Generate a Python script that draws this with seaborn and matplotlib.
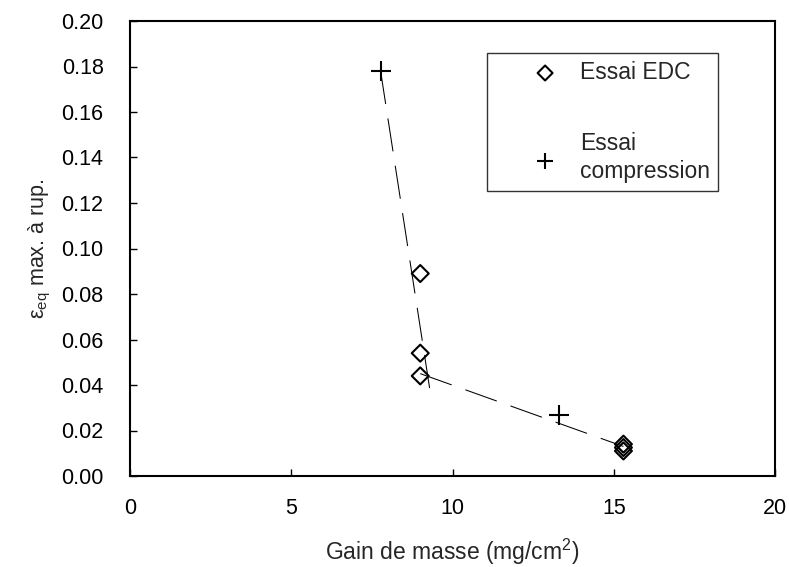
import matplotlib
matplotlib.use("Agg")
import matplotlib.pyplot as plt
import seaborn as sns
import pandas as pd

# ---- data ----
edc_x = [9.0, 9.0, 9.0, 15.3, 15.3, 15.3]
edc_y = [0.089, 0.054, 0.044, 0.011, 0.0125, 0.014]
comp_x = [7.77, 13.3]
comp_y = [0.178, 0.027]
trend1_x = [7.77, 9.33]
trend1_y = [0.178, 0.035]
trend2_x = [9.0, 15.3]
trend2_y = [0.045, 0.013]
x_ticks = [0, 5, 10, 15, 20]
y_ticks = [0.00, 0.02, 0.04, 0.06, 0.08, 0.10, 0.12, 0.14, 0.16, 0.18, 0.20]
label_edc = "Essai EDC"
label_comp = "Essai\ncompression"
x_label = "Gain de masse (mg/cm$\\mathregular{^2}$)"
y_label = "$\\mathregular{ε_{eq}}$ max. à rup."

sns.set_style("ticks")
plt.rcParams['font.family'] = ['Liberation Sans', 'DejaVu Sans']
FS = 15.5
FS_LAB = 16.5

df_edc = pd.DataFrame({"x": edc_x, "y": edc_y})
df_comp = pd.DataFrame({"x": comp_x, "y": comp_y})
df_t1 = pd.DataFrame({"x": trend1_x, "y": trend1_y})
df_t2 = pd.DataFrame({"x": trend2_x, "y": trend2_y})

fig = plt.figure(figsize=(7.89, 5.67), dpi=100)
ax = fig.add_axes([130 / 789, 1 - 476 / 567, 645 / 789, 455 / 567])

dash = (0, (32, 14))
sns.lineplot(data=df_t1, x="x", y="y", ax=ax, color="black", lw=0.75,
             linestyle=dash, estimator=None, sort=False, legend=False, zorder=2)
sns.lineplot(data=df_t2, x="x", y="y", ax=ax, color="black", lw=0.75,
             linestyle=dash, estimator=None, sort=False, legend=False, zorder=2)

sns.scatterplot(data=df_edc, x="x", y="y", ax=ax, marker="D", s=75,
                facecolor="none", edgecolor="black", linewidth=1.5,
                label=label_edc, zorder=3)
sns.scatterplot(data=df_comp, x="x", y="y", ax=ax, marker="+", s=190,
                color="black", linewidth=1.5, label=label_comp, zorder=3)

ax.set_xlim(0, 20)
ax.set_ylim(0, 0.20)
ax.set_xticks(x_ticks)
ax.set_xticklabels([f"{v:d}" for v in x_ticks])
ax.set_yticks(y_ticks)
ax.set_yticklabels([f"{v:.2f}" for v in y_ticks])
ax.tick_params(axis="x", direction="in", length=5, width=1, pad=16,
               labelsize=FS, colors="black")
ax.tick_params(axis="y", direction="in", length=5, width=1, pad=19,
               labelsize=FS, colors="black")
for s in ax.spines.values():
    s.set_visible(True)
    s.set_color("black")
    s.set_linewidth(1.5)

ax.set_xlabel(x_label, fontsize=FS_LAB, labelpad=13)
ax.set_ylabel(y_label, fontsize=FS, labelpad=6)

leg = ax.legend(loc="upper left", bbox_to_anchor=(487 / 789, 1 - 53 / 567),
                bbox_transform=fig.transFigure, frameon=True, fancybox=False,
                edgecolor="black", fontsize=FS_LAB, handlelength=4.37,
                handletextpad=-0.66, borderpad=0.35, borderaxespad=0,
                labelspacing=2.1, scatterpoints=1, markerscale=0.88)
leg.get_frame().set_linewidth(1.0)
for t in leg.get_texts():
    t.set_linespacing(1.27)

fig.savefig("out.png", dpi=100, facecolor="white")
